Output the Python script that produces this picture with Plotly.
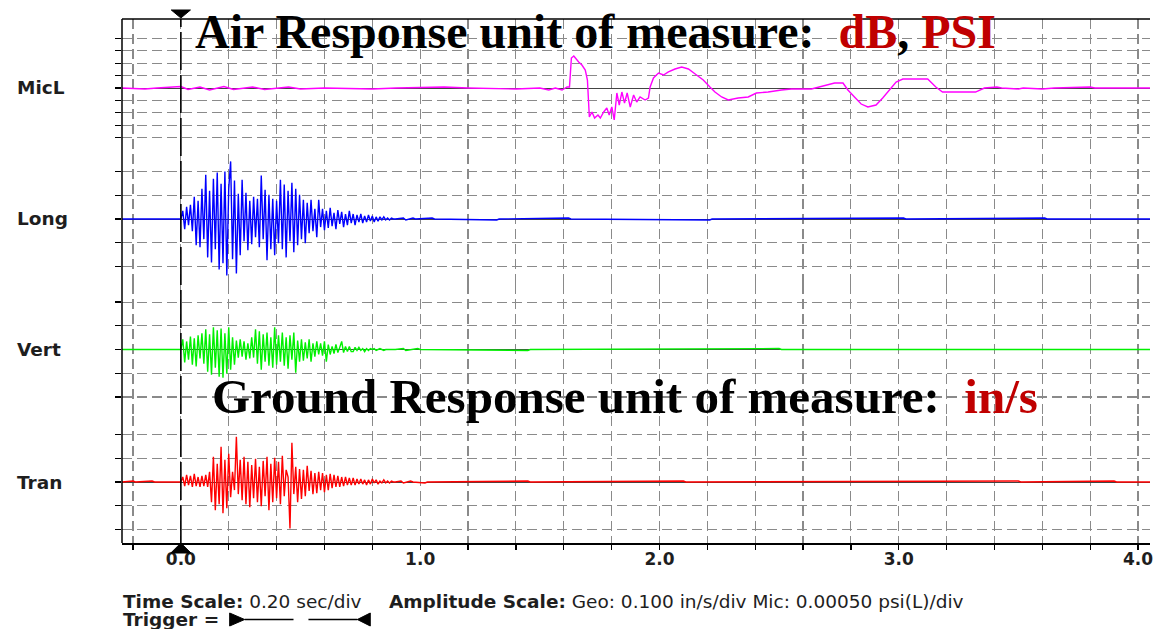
import plotly.graph_objects as go

# ---------------- data ----------------
CHANNELS = ["MicL", "Long", "Vert", "Tran"]
X_TICK_VALS = [0.0, 1.0, 2.0, 3.0, 4.0]
X_TICK_TEXT = ["0.0", "1.0", "2.0", "3.0", "4.0"]

SAMPLE_DT = 0.008  # s between burst samples (instrument sample spacing as read)

# geophone bursts, in/s, starting at the trigger (t = 0)
LONG_BURST = [0, .034, -.043, .051, -.026, .060, -.051, .094, -.111, .077,
              -.119, .128, -.085, .187, -.162, .119, -.183, .170, -.128, .196,
              -.213, .149, -.187, .200, -.238, .128, .243, -.170, .162, -.230,
              .106, -.153, .166, -.094, .111, -.132, .077, -.106, .094, -.077,
              .085, -.119, .183, -.085, .123, -.174, .102, -.128, .085, -.153,
              .077, -.102, .166, -.128, .145, -.162, .119, -.094, .153, -.140,
              .128, -.111, .102, -.085, .081, -.102, .068, -.060, .081, -.051,
              .043, -.077, .081, -.034, .043, -.047, .034, -.038, .047, -.030,
              .026, -.043, .038, -.021, .030, -.034, .021, -.026, .034, -.017,
              .021, -.026, .017, -.013, .021, -.017, .013, -.013, .017, -.009,
              .013, -.013, .009, -.009, .009, -.004, .009, -.004, .004, -.004,
              .004, 0, 0]
VERT_BURST = [0, .043, -.055, .034, -.043, .055, -.064, .047, -.072, .060,
              -.038, .068, -.060, .085, -.094, .064, -.106, .094, -.077, .081,
              -.115, .089, -.119, .068, -.102, .094, -.085, .051, -.064, .038,
              -.034, .043, -.030, .034, -.043, .026, -.038, .051, -.034, .085,
              -.060, .077, -.085, .064, -.051, .072, -.068, .051, -.077, .094,
              -.064, .060, -.051, .072, -.068, .051, -.081, .060, -.043, .072,
              -.098, .038, -.051, .043, -.047, .030, -.038, .043, -.051, .026,
              -.030, .034, -.021, .026, -.026, .034, -.051, .021, -.021, .013,
              -.017, .021, -.013, .009, .034, -.013, .013, -.009, .013, -.009,
              -.009, .009, -.004, .009, -.004, .004, -.009, .004, -.004, .004,
              0, .004, -.004, 0, .004, 0, -.004, 0, 0, 0, 0, 0, 0]
TRAN_BURST = [0, .021, -.017, .030, -.013, .026, -.021, .034, -.017, .021,
              -.021, .026, -.017, .030, -.021,
              .043, -.085, .106, -.119, .077, -.094, .149, -.132, .094, -.111,
              .119, -.064, .043, -.034, .191, -.051, .094, -.077, .106, -.094,
              .085, -.106, .072, -.068, .098, -.085, .064, -.102, .089, -.060,
              .106, -.119, .077, -.085, .102, -.068, .085, -.094, .111, -.060,
              .051, .021, -.196, .166, -.051, .064, -.085, .055, -.072, .051,
              -.060, .068, -.038, .047, -.051, .038, -.047, .043, -.034, .038,
              -.043, .030, -.034, .034, -.026, .030, -.021, .026, -.021, .021,
              -.017, .021, -.013, .017, -.013, .017, -.013,
              .013, -.009, .013, -.009, .009, -.013, .009, -.009, .013, -.004,
              .009, -.009, .004, -.004, .009, -.004, .004, -.004, .004, 0, 0]

# quiet parts of the geophone records (before trigger and after burst)
LONG_QUIET_T = [-0.25, 0.93, 0.94, 0.97, 0.98, 1.05, 1.06, 1.32, 1.33, 1.62, 1.63,
                2.21, 2.22, 3.02, 3.03, 3.61, 3.62, 4.06]
LONG_QUIET_V = [0, .004, -.004, .004, 0, .004, 0, -.004, 0, .004, 0,
                -.004, 0, .004, 0, .004, 0, 0]
VERT_QUIET_T = [-0.25, 0.93, 0.94, 0.99, 1.0, 1.45, 1.46, 2.5, 2.51, 4.06]
VERT_QUIET_V = [0, .004, -.004, .004, 0, -.004, 0, .004, 0, 0]
TRAN_QUIET_T = [-0.25, -0.2, -0.19, -0.12, -0.11, 0.92, 0.93, 0.96, 0.97, 1.02, 1.03,
                1.45, 1.46, 2.1, 2.11, 3.5, 3.51, 3.9, 3.91, 4.06]
TRAN_QUIET_V = [0, .004, 0, .004, 0, .004, -.004, .004, 0, -.004, 0,
                .004, 0, .004, 0, .004, 0, .004, 0, 0]

# microphone record, psi
MIC_T = [-0.25, -0.15, -0.1, 0.0, 0.03, 0.08, 0.12, 0.18, 0.22, 0.3, 0.35, 0.45,
         0.5, 0.6, 0.8, 0.9, 1.1, 1.2, 1.4, 1.5,
         1.5375, 1.565, 1.593, 1.614, 1.624, 1.632, 1.642, 1.651, 1.6625, 1.676,
         1.690, 1.699, 1.707, 1.718, 1.729, 1.743, 1.753, 1.767, 1.780, 1.790,
         1.801, 1.811, 1.822, 1.832, 1.843, 1.854, 1.865, 1.878, 1.892, 1.905,
         1.919, 1.940, 1.954, 1.961, 1.975, 1.996, 2.017, 2.0375, 2.065, 2.093,
         2.121, 2.155, 2.183, 2.211, 2.232, 2.260, 2.2875, 2.329, 2.371, 2.405,
         2.454, 2.510, 2.551, 2.635, 2.690, 2.732, 2.767, 2.7875, 2.815, 2.843,
         2.871, 2.905, 2.933, 2.961, 2.989, 3.017, 3.121, 3.155, 3.183, 3.321,
         3.358, 3.41, 3.43, 3.5, 3.52, 3.6, 3.65, 3.8, 3.82, 4.06]
MIC_V = [0, -0.00002, 0, 0.00003, -0.00003, 0.00002, -0.00004, 0.00003, -0.00003,
         0.00002, -0.00003, 0.00002, -0.00002, 0, -0.00002, 0, 0.00002, 0,
         -0.00002, 0,
         -0.00004, 0, -0.00004, 0.00002, 0.00002, 0.000605, 0.000645, 0.000585,
         0.000524, 0.000464, 0.000363, 0.000161, -0.000585, -0.000484, -0.000605,
         -0.000544, -0.000605, -0.000484, -0.000403, -0.000544, -0.000383,
         -0.000645, -0.000101, -0.000343, -0.000081, -0.000302, -0.000101,
         -0.000383, -0.000141, -0.000282, -0.000181, -0.000242, -0.000202,
         0.00002, 0.000202, 0.000302, 0.000262, 0.000323, 0.000383, 0.000423,
         0.000383, 0.000262, 0.000161, 0.00002, -0.000081, -0.000181, -0.000242,
         -0.000202, -0.000181, -0.000101, -0.000081, -0.00004, -0.00002,
         -0.00002, 0.00004, 0.000101, 0.000101, -0.00004, -0.000181, -0.000323,
         -0.000383, -0.000343, -0.000202, -0.00004, 0.000121, 0.000181, 0.000181,
         0.00002, -0.000081, -0.000081, 0, 0.00002, 0, -0.00002, 0, -0.00002, 0,
         0.00002, 0, 0]

GEO_GRID = [-0.2, -0.1, 0, 0.1, 0.2]                 # in/s
MIC_GRID = [-0.001, -0.00075, -0.0005, -0.00025, 0,
            0.00025, 0.0005, 0.00075, 0.001]         # psi

# ---------------- layout geometry (page pixels of the 1153x629 window) ----------------
W, H = 1153, 629
PL, PT, PB = 122, 19, 543          # plot left / top / bottom
PW, PHt = W - PL, PB - PT
BASE_PX = [88, 219, 349.5, 482]    # channel baselines
BOUND_PX = [PT, 153.5, 284.25, 415.75, PB]
UNIT_PER_PX = [0.00025 / 12.4, 0.1 / 23.7, 0.1 / 23.7, 0.1 / 23.7]
X_RANGE = [-0.246, 4.05]


def px(x):
    return (x - PL) / PW


def py(y):
    return (PB - y) / PHt


def geo_series(burst, qt, qv):
    pts = list(zip(qt, qv)) + [(i * SAMPLE_DT, v) for i, v in enumerate(burst)]
    pts.sort(key=lambda p: p[0])
    return [p[0] for p in pts], [p[1] for p in pts]


GRID_COLOR = "#8a8a8a"
GRID_DASH = "10px,5px"
SANS = "DejaVu Sans"
SERIF = "Liberation Serif"
RED = "#c00000"
TXT = "#1e1e1e"

series = [
    (MIC_T, MIC_V, "#ff00ff"),
    geo_series(LONG_BURST, LONG_QUIET_T, LONG_QUIET_V) + ("#0000ff",),
    geo_series(VERT_BURST, VERT_QUIET_T, VERT_QUIET_V) + ("#00f000",),
    geo_series(TRAN_BURST, TRAN_QUIET_T, TRAN_QUIET_V) + ("#ff0000",),
]

fig = go.Figure()
for i, (t, v, col) in enumerate(series):
    fig.add_trace(go.Scatter(x=t, y=v, mode="lines", name=CHANNELS[i],
                             line=dict(color=col, width=1.4),
                             yaxis="y" if i == 0 else f"y{i+1}",
                             showlegend=False, hoverinfo="skip"))

layout = dict(
    width=W, height=H,
    margin=dict(l=PL, r=0, t=PT, b=H - PB, pad=0),
    paper_bgcolor="white", plot_bgcolor="white",
    showlegend=False,
    xaxis=dict(range=X_RANGE, domain=[0, 1], anchor="free", position=0,
               showline=True, linecolor="black", linewidth=1.5,
               tickmode="array", tickvals=X_TICK_VALS, ticktext=X_TICK_TEXT,
               ticks="outside", ticklen=5, tickcolor="black", tickwidth=1.3,
               ticklabelstandoff=-5, ticklabeloverflow="allow",
               tickfont=dict(family=SANS, size=17, color=TXT, weight="bold"),
               showgrid=True, gridcolor=GRID_COLOR, griddash=GRID_DASH, gridwidth=1.2,
               zeroline=False, fixedrange=True,
               minor=dict(dtick=0.2, tick0=0, ticks="outside", ticklen=5,
                          tickcolor="black", tickwidth=1.3, showgrid=True,
                          gridcolor=GRID_COLOR, griddash=GRID_DASH, gridwidth=1.2)),
)

annotations = []
for i in range(4):
    top, bot, base, u = BOUND_PX[i], BOUND_PX[i + 1], BASE_PX[i], UNIT_PER_PX[i]
    key = "yaxis" if i == 0 else f"yaxis{i+1}"
    layout[key] = dict(
        domain=[py(bot), py(top)],
        range=[-(bot - base) * u, (base - top) * u],
        anchor="x", tickmode="array",
        tickvals=MIC_GRID if i == 0 else GEO_GRID,
        ticks="outside", ticklen=6, tickcolor="black", tickwidth=1.3,
        showticklabels=False, showline=False,
        showgrid=True, gridcolor=GRID_COLOR, griddash=GRID_DASH, gridwidth=1.2,
        zeroline=True, zerolinecolor="#444444", zerolinewidth=1,
        fixedrange=True,
    )
    annotations.append(dict(text=f"<b>{CHANNELS[i]}</b>", xref="paper", x=px(15),
                            xanchor="left", yref="paper", y=py(base), yanchor="middle",
                            showarrow=False,
                            font=dict(family=SANS, size=18.5, color=TXT)))

# headline annotations
annotations.append(dict(
    text=("<b>Air Response unit of measure:  <span style='color:%s'>dB</span>, "
          "<span style='color:%s'>PSI</span></b>") % (RED, RED),
    xref="paper", x=px(193), xanchor="left", yref="paper", y=py(31), yanchor="middle",
    showarrow=False, font=dict(family=SERIF, size=48, color="black")))
annotations.append(dict(
    text="<b>Ground Response unit of measure:  <span style='color:%s'>in/s</span></b>" % RED,
    xref="paper", x=px(210), xanchor="left", yref="paper", y=py(396), yanchor="middle",
    showarrow=False, font=dict(family=SERIF, size=49, color="black")))

# footer
FOOT = dict(family=SANS, size=18.5, color=TXT)
annotations.append(dict(text="<b>Time Scale:</b> 0.20 sec/div", xref="paper", x=px(121),
                        xanchor="left", yref="paper", y=py(601.5), yanchor="middle",
                        showarrow=False, font=FOOT))
annotations.append(dict(text="<b>Amplitude Scale:</b> Geo: 0.100 in/s/div Mic: 0.00050 psi(L)/div",
                        xref="paper", x=px(388), xanchor="left", yref="paper", y=py(601.5),
                        yanchor="middle", showarrow=False, font=FOOT))
annotations.append(dict(text="<b>Trigger =</b>", xref="paper", x=px(121),
                        xanchor="left", yref="paper", y=py(619.5), yanchor="middle",
                        showarrow=False, font=FOOT))
layout["annotations"] = annotations

shapes = [
    # plot frame: left and top edges
    dict(type="line", xref="paper", yref="paper", x0=0, x1=0, y0=0, y1=1,
         line=dict(color="black", width=1.5), layer="above"),
    dict(type="line", xref="paper", yref="paper", x0=0, x1=1, y0=1, y1=1,
         line=dict(color="black", width=1.5), layer="above"),
    # trigger line at t = 0
    dict(type="line", xref="x", yref="paper", x0=0, x1=0, y0=0, y1=1,
         line=dict(color="black", width=1.6, dash="38px,5px"), layer="above"),
    # trigger markers top/bottom
    dict(type="path", xref="x", yref="paper",
         path=f"M -0.04,{py(10)} L 0.04,{py(10)} L 0,{py(18)} Z",
         fillcolor="black", line=dict(color="black", width=1), layer="above"),
    dict(type="path", xref="x", yref="paper",
         path=f"M -0.042,{py(553)} L 0.042,{py(553)} L 0,{py(543)} Z",
         fillcolor="black", line=dict(color="black", width=1), layer="above"),
    # footer trigger symbol
    dict(type="path", xref="paper", yref="paper",
         path=f"M {px(230)},{py(613)} L {px(230)},{py(626)} L {px(245)},{py(619.5)} Z",
         fillcolor="black", line=dict(color="black", width=1)),
    dict(type="line", xref="paper", yref="paper", x0=px(245), x1=px(294),
         y0=py(619.5), y1=py(619.5), line=dict(color="black", width=1.3)),
    dict(type="line", xref="paper", yref="paper", x0=px(309), x1=px(358),
         y0=py(619.5), y1=py(619.5), line=dict(color="black", width=1.3)),
    dict(type="path", xref="paper", yref="paper",
         path=f"M {px(371)},{py(613)} L {px(371)},{py(626)} L {px(358)},{py(619.5)} Z",
         fillcolor="black", line=dict(color="black", width=1)),
]
layout["shapes"] = shapes

fig.update_layout(**layout)
# the page's default 8px body margin would shift and crop the figure in the window
fig.write_html("out.html",
               config={"displayModeBar": False, "staticPlot": True},
               post_script="document.body.style.margin='0';"
                           "document.body.style.overflow='hidden';")
